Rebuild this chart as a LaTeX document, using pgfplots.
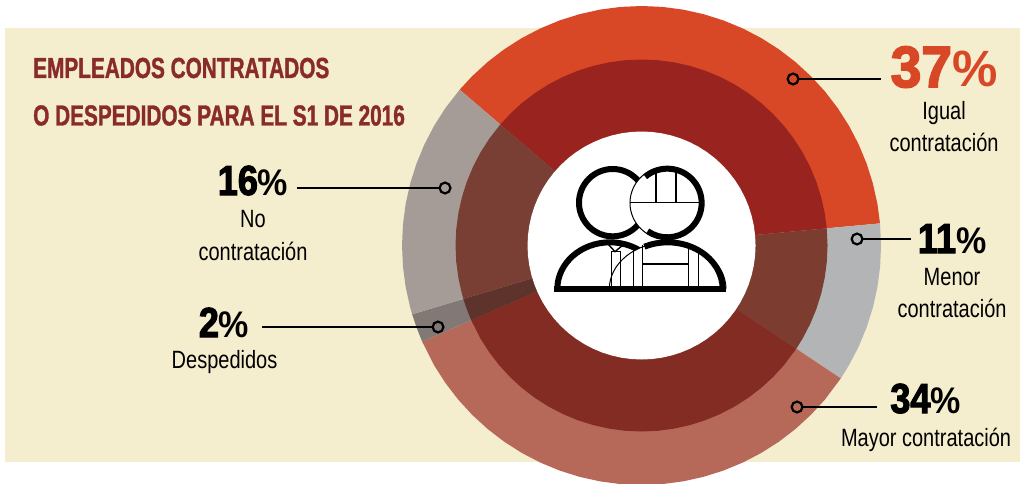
\documentclass[border=0pt]{standalone}
\usepackage{fontspec}
\usepackage{pgfplots}
\pgfplotsset{compat=1.18}
\usepgfplotslibrary{polar}
\setmainfont{Liberation Sans}
\newfontfamily\lab[FakeStretch=0.8]{Liberation Sans}
\newfontfamily\tit[FakeStretch=0.717,BoldFeatures={FakeBold=1.2}]{Liberation Sans}
\newfontfamily\numf[FakeStretch=0.86,BoldFeatures={FakeBold=2.5}]{Liberation Sans}
\newfontfamily\pctf[FakeStretch=0.92]{Liberation Sans}
\newfontfamily\numw[FakeStretch=0.95,BoldFeatures={FakeBold=3}]{Liberation Sans}
\newfontfamily\pctw[FakeStretch=1.0]{Liberation Sans}
\definecolor{bgc}{HTML}{F4EECE}
\definecolor{oa}{HTML}{D84726}\definecolor{ob}{HTML}{B3B4B6}\definecolor{oc}{HTML}{B66958}\definecolor{od}{HTML}{827976}\definecolor{oe}{HTML}{A59C98}
\definecolor{ia}{HTML}{98231F}\definecolor{ib}{HTML}{7C3D30}\definecolor{ic}{HTML}{832C23}\definecolor{id}{HTML}{5E332B}\definecolor{ie}{HTML}{7A3F34}
\definecolor{tc}{HTML}{8A2B2B}
\newcommand\PX[2]{(axis cs:{#1-641.5},{245.5-(#2)})}
\newcommand\Lab[3]{\node[anchor=base,inner sep=0pt,font=\lab\fontsize{25}{25}\selectfont,text=black] at \PX{#1}{#2} {#3};}
\newcommand\Num[5]{\node[anchor=base,inner sep=0pt,text=#4] at \PX{#1}{#2} {\numf\fontsize{#3}{#3}\selectfont\bfseries #5{\pctf\bfseries\fontsize{37}{37}\selectfont\%}};}
\begin{document}
\begin{tikzpicture}
\path[use as bounding box] (0,0) rectangle (1020pt,483pt);
\begin{axis}[at={(0,0)},anchor=south west,scale only axis,width=1020pt,height=483pt,
  xmin=-641.5,xmax=378.5,ymin=-237.5,ymax=245.5,hide axis,clip=true]
% background
\addplot[fill=bgc,draw=none] coordinates {(-636.5,217.5) (378.5,217.5) (378.5,-216.5) (-636.5,-216.5)} -- cycle;
% outer ring
\addplot[fill=oa,draw=none,data cs=polar] coordinates {(0,0) (5.3,239.5) (10,239.5) (15,239.5) (20,239.5) (25,239.5) (30,239.5) (35,239.5) (40,239.5) (45,239.5) (50,239.5) (55,239.5) (60,239.5) (65,239.5) (70,239.5) (75,239.5) (80,239.5) (85,239.5) (90,239.5) (95,239.5) (100,239.5) (105,239.5) (110,239.5) (115,239.5) (120,239.5) (125,239.5) (130,239.5) (135,239.5) (139.4,239.5)} -- cycle;
\addplot[fill=ob,draw=none,data cs=polar] coordinates {(0,0) (-33.7,239.5) (-30,239.5) (-25,239.5) (-20,239.5) (-15,239.5) (-10,239.5) (-5,239.5) (0,239.5) (5.3,239.5)} -- cycle;
\addplot[fill=oc,draw=none,data cs=polar] coordinates {(0,0) (-156.3,239.5) (-150,239.5) (-145,239.5) (-140,239.5) (-135,239.5) (-130,239.5) (-125,239.5) (-120,239.5) (-115,239.5) (-110,239.5) (-105,239.5) (-100,239.5) (-95,239.5) (-90,239.5) (-85,239.5) (-80,239.5) (-75,239.5) (-70,239.5) (-65,239.5) (-60,239.5) (-55,239.5) (-50,239.5) (-45,239.5) (-40,239.5) (-33.7,239.5)} -- cycle;
\addplot[fill=od,draw=none,data cs=polar] coordinates {(0,0) (-163.3,239.5) (-160,239.5) (-156.3,239.5)} -- cycle;
\addplot[fill=oe,draw=none,data cs=polar] coordinates {(0,0) (-220.6,239.5) (-215,239.5) (-210,239.5) (-205,239.5) (-200,239.5) (-195,239.5) (-190,239.5) (-185,239.5) (-180,239.5) (-175,239.5) (-170,239.5) (-165,239.5) (-163.3,239.5)} -- cycle;
% middle ring
\addplot[fill=ia,draw=none,data cs=polar] coordinates {(0,0) (5.3,186) (10,186) (15,186) (20,186) (25,186) (30,186) (35,186) (40,186) (45,186) (50,186) (55,186) (60,186) (65,186) (70,186) (75,186) (80,186) (85,186) (90,186) (95,186) (100,186) (105,186) (110,186) (115,186) (120,186) (125,186) (130,186) (135,186) (139.4,186)} -- cycle;
\addplot[fill=ib,draw=none,data cs=polar] coordinates {(0,0) (-33.7,186) (-30,186) (-25,186) (-20,186) (-15,186) (-10,186) (-5,186) (0,186) (5.3,186)} -- cycle;
\addplot[fill=ic,draw=none,data cs=polar] coordinates {(0,0) (-156.3,186) (-150,186) (-145,186) (-140,186) (-135,186) (-130,186) (-125,186) (-120,186) (-115,186) (-110,186) (-105,186) (-100,186) (-95,186) (-90,186) (-85,186) (-80,186) (-75,186) (-70,186) (-65,186) (-60,186) (-55,186) (-50,186) (-45,186) (-40,186) (-33.7,186)} -- cycle;
\addplot[fill=id,draw=none,data cs=polar] coordinates {(0,0) (-163.3,186) (-160,186) (-156.3,186)} -- cycle;
\addplot[fill=ie,draw=none,data cs=polar] coordinates {(0,0) (-220.6,186) (-215,186) (-210,186) (-205,186) (-200,186) (-195,186) (-190,186) (-185,186) (-180,186) (-175,186) (-170,186) (-165,186) (-163.3,186)} -- cycle;
% centre
\addplot[fill=white,draw=none,data cs=polar] coordinates {(0,114) (5,114) (10,114) (15,114) (20,114) (25,114) (30,114) (35,114) (40,114) (45,114) (50,114) (55,114) (60,114) (65,114) (70,114) (75,114) (80,114) (85,114) (90,114) (95,114) (100,114) (105,114) (110,114) (115,114) (120,114) (125,114) (130,114) (135,114) (140,114) (145,114) (150,114) (155,114) (160,114) (165,114) (170,114) (175,114) (180,114) (185,114) (190,114) (195,114) (200,114) (205,114) (210,114) (215,114) (220,114) (225,114) (230,114) (235,114) (240,114) (245,114) (250,114) (255,114) (260,114) (265,114) (270,114) (275,114) (280,114) (285,114) (290,114) (295,114) (300,114) (305,114) (310,114) (315,114) (320,114) (325,114) (330,114) (335,114) (340,114) (345,114) (350,114) (355,114)} -- cycle;
% leaders
\addplot[black,line width=2.4pt] coordinates {(157,166.5) (239.5,166.5)};
\addplot[black,line width=2.4pt] coordinates {(221,6.5) (269.5,6.5)};
\addplot[black,line width=2.4pt] coordinates {(161,-161.5) (235.5,-161.5)};
\addplot[black,line width=2.4pt] coordinates {(-202,57.5) (-344.5,57.5)};
\addplot[black,line width=2.4pt] coordinates {(-209,-81.5) (-379.5,-81.5)};
\addplot[only marks,mark=o,mark size=5.4pt,mark options={draw=black,line width=2.2pt}] coordinates {(151.5,166.5) (215.5,6.5) (155.5,-161.5) (-196.5,57.5) (-203.5,-81.5)};
% title
\node[anchor=base west,inner sep=0pt,text=tc] at \PX{33}{78} {\tit\bfseries\fontsize{29}{29}\selectfont EMPLEADOS CONTRATADOS};
\node[anchor=base west,inner sep=0pt,text=tc] at \PX{33}{125.5} {\tit\bfseries\fontsize{29}{29}\selectfont O DESPEDIDOS PARA EL S1 DE 2016};
% labels
\node[anchor=base,inner sep=0pt,text=oa] at \PX{944}{87} {\numw\fontsize{58}{58}\selectfont\bfseries 37{\pctw\bfseries\fontsize{51}{51}\selectfont\%}};
\Lab{944}{120}{Igual}
\Lab{944}{152}{contratación}
\Num{952}{253}{42}{black}{11}
\Lab{952}{285}{Menor}
\Lab{952}{317}{contratación}
\Num{925.5}{413}{42}{black}{34}
\Lab{926}{446}{Mayor contratación}
\Num{253}{195}{42}{black}{16}
\Lab{253}{227}{No}
\Lab{253}{260}{contratación}
\Num{224}{337}{42}{black}{2}
\Lab{224.5}{368}{Despedidos}
\end{axis}
% icon, decoration (units: zoomed pixels)
\begin{scope}[shift={(520pt,343pt)},x=0.3333pt,y=0.3333pt]
 \draw[line width=6pt] (112,-447) arc[start angle=180,end angle=55,x radius=158,y radius=140];
 \draw[line width=1pt,fill=white] (268,-447) arc[start angle=180,end angle=0,x radius=175,y radius=140];
 \draw[line width=6pt] (443,-447) ++(115:165 and 140) arc[start angle=115,end angle=0,x radius=165,y radius=140];
 \draw[line width=1.4pt] (262,-310) -- (285,-335) -- (315,-310);
 \draw[line width=1.4pt] (275,-440) -- (275,-335) -- (302,-335) -- (302,-440);
 \draw[line width=1.5pt] (340,-330) -- (340,-440) (368,-315) -- (368,-440) (505,-318) -- (505,-440) (535,-335) -- (535,-440) (368,-372) -- (505,-372);
 \draw[line width=6pt,fill=white] (278,-188) circle[radius=101];
 \draw[line width=1pt,fill=white] (438,-189) circle[radius=108];
 \draw[line width=6pt] (442,-189) ++(130:103) arc[start angle=130,end angle=-125,radius=103];
 \draw[line width=1.2pt] (330,-187) -- (542,-187) (408,-187) -- (408,-92) (468,-187) -- (468,-92);
 \draw[line width=6pt] (103,-447) -- (618,-447);
\end{scope}
\end{tikzpicture}
\end{document}
